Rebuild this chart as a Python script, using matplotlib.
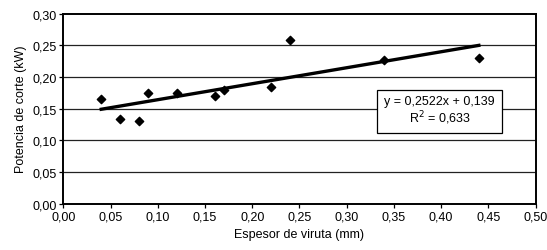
import matplotlib
matplotlib.use("Agg")
import matplotlib.pyplot as plt
import numpy as np
from matplotlib.ticker import FuncFormatter, MultipleLocator

plt.rcParams["font.family"] = ["Liberation Sans", "DejaVu Sans"]

espesor = [0.04, 0.06, 0.08, 0.09, 0.12, 0.16, 0.17, 0.22, 0.24, 0.34, 0.44]
potencia = [0.166, 0.133, 0.130, 0.175, 0.175, 0.170, 0.179, 0.184, 0.258, 0.227, 0.230]
pendiente = 0.2522
ordenada = 0.139
r2 = 0.633


def coma(v, pos):
    return f"{v:.2f}".replace(".", ",")


fig = plt.figure(figsize=(5.47, 2.51), dpi=100)
ax = fig.add_axes([0.116, 0.1845, 0.863, 0.757])

for y in np.arange(0.05, 0.30, 0.05):
    ax.axhline(y, color="#222222", lw=0.9, zorder=1)

ax.scatter(espesor, potencia, marker="D", s=18, color="black", zorder=3)
xs = np.array([min(espesor), max(espesor)])
ax.plot(xs, pendiente * xs + ordenada, color="black", lw=2.4, zorder=2)

ax.text(0.3985, 0.147, f"y = {pendiente:.4f}x + {ordenada:.3f}\nR$^2$ = {r2:.3f}".replace(".", ","),
        ha="center", va="center", fontsize=9, linespacing=1.05,
        bbox=dict(boxstyle="square,pad=0.55", facecolor="white", edgecolor="black", lw=0.9), zorder=4)

ax.set_xlim(0, 0.5)
ax.set_ylim(0, 0.3)
ax.xaxis.set_major_locator(MultipleLocator(0.05))
ax.yaxis.set_major_locator(MultipleLocator(0.05))
ax.xaxis.set_major_formatter(FuncFormatter(coma))
ax.yaxis.set_major_formatter(FuncFormatter(coma))
ax.tick_params(direction="out", length=3, width=0.9, labelsize=9, colors="black", pad=2)
for s in ax.spines.values():
    s.set_linewidth(1.4)
ax.set_xlabel("Espesor de viruta (mm)", fontsize=9, labelpad=4)
ax.set_ylabel("Potencia de corte (kW)", fontsize=9, labelpad=4)

fig.savefig("out.png", dpi=100)
